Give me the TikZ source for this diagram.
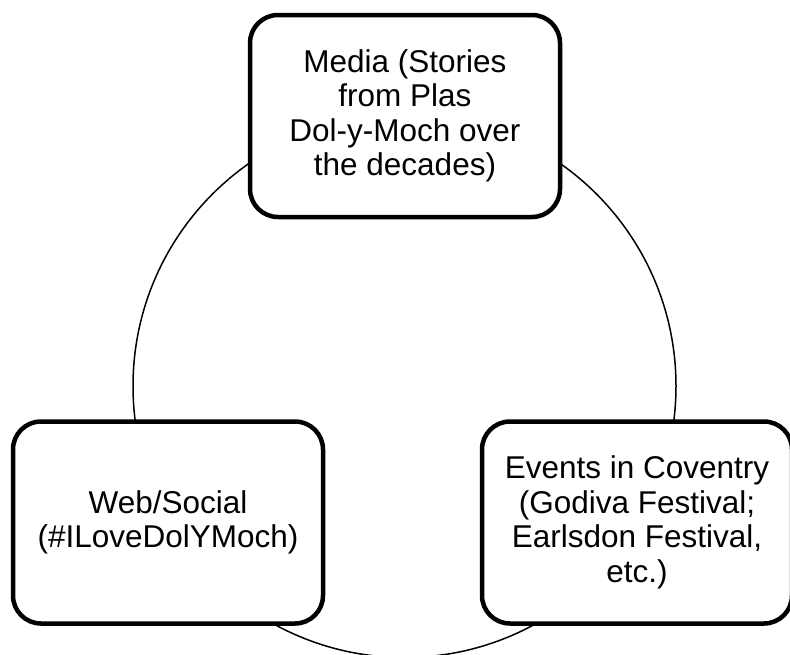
\documentclass[tikz,border=0pt]{standalone}
\usepackage{fontspec}
\setmainfont{Liberation Sans}
\begin{document}
\begin{tikzpicture}[x=1pt,y=-1pt,
  ring/.style={draw,circle,line width=1.5pt,minimum size=543pt,inner sep=0pt},
  stage/.style={draw,fill=white,rounded corners=28pt,line width=4.5pt,minimum width=310pt,minimum height=202pt,align=center,font=\fontsize{31.5}{34.5}\selectfont}]
  \clip (0,0) rectangle (790,654);
  \node[ring] (loop) at (404.5,386) {};
  \node[stage] (media) at (405,116) {Media (Stories\\from Plas\\Dol-y-Moch over\\the decades)};
  \node[stage] (web) at (168,522.5) {Web/Social\\(\#ILoveDolYMoch)};
  \node[stage] (events) at (637,522.5) {Events in Coventry\\(Godiva Festival;\\Earlsdon Festival,\\etc.)};
\end{tikzpicture}
\end{document}
